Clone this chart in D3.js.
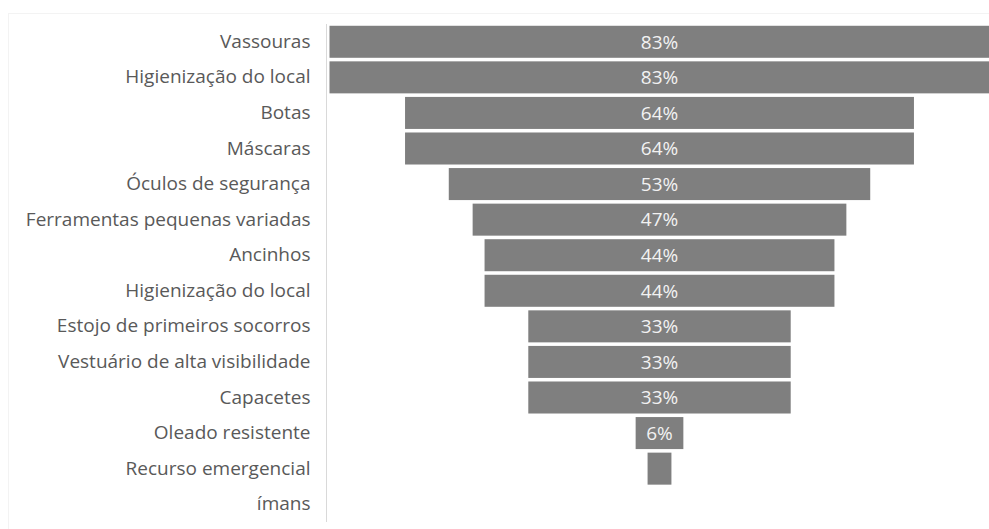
<!DOCTYPE html>
<html>
<head>
<meta charset="utf-8">
<script src="https://cdn.jsdelivr.net/npm/d3@7"></script>
<style>
  html, body { margin: 0; padding: 0; background: #fff; }
  svg { display: block; }
</style>
</head>
<body>
<svg id="chart" width="989" height="529"></svg>
<script>
// Funnel of equipment availability (% of sites)
const categories = [
  "Vassouras",
  "Higienização do local",
  "Botas",
  "Máscaras",
  "Óculos de segurança",
  "Ferramentas pequenas variadas",
  "Ancinhos",
  "Higienização do local",
  "Estojo de primeiros socorros",
  "Vestuário de alta visibilidade",
  "Capacetes",
  "Oleado resistente",
  "Recurso emergencial",
  "ímans"
];
const values = [83, 83, 64, 64, 53, 47, 44, 44, 33, 33, 33, 6, 3, 0];
// Which bars carry a value label
const showLabel = [true, true, true, true, true, true, true, true, true, true, true, true, false, false];

const svg = d3.select("#chart");
const W = 989, H = 529;

const plotTop = 24, plotBottom = 522;
const axisX = 326.5;
const centerX = 659.5;

// faint chart frame
svg.append("rect")
  .attr("x", 8.5).attr("y", 13.5)
  .attr("width", W - 8).attr("height", H - 13)
  .attr("fill", "none").attr("stroke", "#f3f3f3");

const rows = d3.range(categories.length);
const y = d3.scaleBand()
  .domain(rows)
  .range([plotTop, plotBottom])
  .paddingInner(0.1)
  .paddingOuter(0.05);

// full bar width per value, bars centered on centerX
const w = d3.scaleLinear().domain([0, 83]).range([0, 660]);

svg.append("g")
  .selectAll("rect")
  .data(values)
  .join("rect")
  .attr("x", d => centerX - w(d) / 2)
  .attr("y", (d, i) => y(i))
  .attr("width", d => w(d))
  .attr("height", y.bandwidth())
  .attr("fill", "#7f7f7f");

// category axis
const axis = d3.axisLeft(y)
  .tickSize(0)
  .tickPadding(16)
  .tickFormat(i => categories[i]);

const gAxis = svg.append("g")
  .attr("transform", `translate(${axisX},0)`)
  .call(axis);
gAxis.select(".domain").attr("stroke", "#d9d9d9").attr("d", `M0,${plotTop}V${plotBottom}`);
gAxis.selectAll("text")
  .attr("fill", "#595959")
  .style("font-family", "'Open Sans', sans-serif")
  .style("font-size", "19px");

// value labels
svg.append("g")
  .selectAll("text")
  .data(values.map((v, i) => ({ v, i })).filter(d => showLabel[d.i]))
  .join("text")
  .attr("x", centerX)
  .attr("y", d => y(d.i) + y.bandwidth() / 2)
  .attr("dy", "0.36em")
  .attr("text-anchor", "middle")
  .attr("fill", "#f2f2f2")
  .style("font-family", "'Open Sans', sans-serif")
  .style("font-size", "19px")
  .text(d => d.v + "%");
</script>
</body>
</html>
